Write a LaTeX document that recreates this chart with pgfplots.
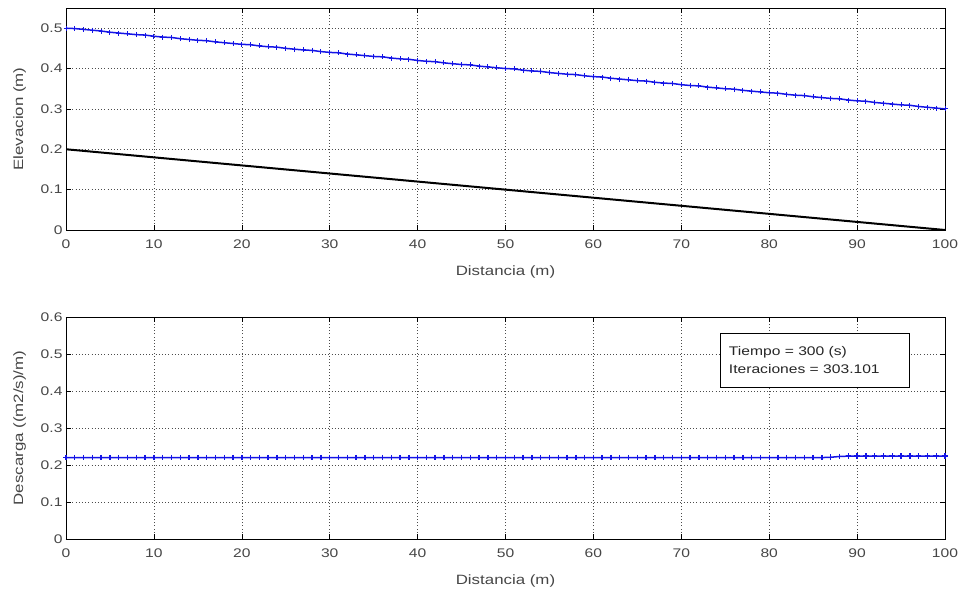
\documentclass[border=0pt]{standalone}
\usepackage{fontspec}
\setmainfont{Liberation Sans}[FakeStretch=1.25]
\usepackage{pgfplots}
\usepackage{pgfplotstable}
\pgfplotsset{compat=1.18}
\definecolor{lineBlue}{RGB}{20,20,230}
\definecolor{txtGray}{RGB}{70,70,70}

% x  nivel(m)  fondo(m)  descarga
\pgfplotstableread{
x   h      z      q
0   0.500  0.200  0.220
1   0.499  0.198  0.220
2   0.497  0.196  0.220
3   0.495  0.194  0.220
4   0.493  0.192  0.220
5   0.490  0.190  0.220
6   0.488  0.188  0.220
7   0.486  0.186  0.220
8   0.484  0.184  0.220
9   0.483  0.182  0.220
10  0.480  0.180  0.220
11  0.478  0.178  0.220
12  0.477  0.176  0.220
13  0.474  0.174  0.220
14  0.472  0.172  0.220
15  0.470  0.170  0.220
16  0.469  0.168  0.220
17  0.466  0.166  0.220
18  0.464  0.164  0.220
19  0.462  0.162  0.220
20  0.460  0.160  0.220
21  0.459  0.158  0.220
22  0.456  0.156  0.220
23  0.454  0.154  0.220
24  0.453  0.152  0.220
25  0.450  0.150  0.220
26  0.448  0.148  0.220
27  0.446  0.146  0.220
28  0.445  0.144  0.220
29  0.442  0.142  0.220
30  0.440  0.140  0.220
31  0.439  0.138  0.220
32  0.436  0.136  0.220
33  0.434  0.134  0.220
34  0.432  0.132  0.220
35  0.430  0.130  0.220
36  0.429  0.128  0.220
37  0.426  0.126  0.220
38  0.424  0.124  0.220
39  0.423  0.122  0.220
40  0.420  0.120  0.220
41  0.418  0.118  0.220
42  0.417  0.116  0.220
43  0.414  0.114  0.220
44  0.412  0.112  0.220
45  0.410  0.110  0.220
46  0.409  0.108  0.220
47  0.406  0.106  0.220
48  0.404  0.104  0.220
49  0.402  0.102  0.220
50  0.400  0.100  0.220
51  0.399  0.098  0.220
52  0.396  0.096  0.220
53  0.394  0.094  0.220
54  0.393  0.092  0.220
55  0.390  0.090  0.220
56  0.388  0.088  0.220
57  0.386  0.086  0.220
58  0.385  0.084  0.220
59  0.382  0.082  0.220
60  0.380  0.080  0.220
61  0.379  0.078  0.220
62  0.376  0.076  0.220
63  0.374  0.074  0.220
64  0.372  0.072  0.220
65  0.370  0.070  0.220
66  0.369  0.068  0.220
67  0.366  0.066  0.220
68  0.364  0.064  0.220
69  0.363  0.062  0.220
70  0.360  0.060  0.220
71  0.358  0.058  0.220
72  0.357  0.056  0.220
73  0.354  0.054  0.220
74  0.352  0.052  0.220
75  0.350  0.050  0.220
76  0.349  0.048  0.220
77  0.346  0.046  0.220
78  0.344  0.044  0.220
79  0.342  0.042  0.220
80  0.340  0.040  0.220
81  0.339  0.038  0.220
82  0.336  0.036  0.220
83  0.334  0.034  0.220
84  0.333  0.032  0.220
85  0.330  0.030  0.220
86  0.328  0.028  0.220
87  0.326  0.026  0.221
88  0.325  0.024  0.223
89  0.322  0.022  0.224
90  0.320  0.020  0.224
91  0.319  0.018  0.224
92  0.316  0.016  0.224
93  0.314  0.014  0.224
94  0.312  0.012  0.224
95  0.310  0.010  0.224
96  0.309  0.008  0.224
97  0.306  0.006  0.224
98  0.304  0.004  0.224
99  0.302  0.002  0.224
100 0.300  0.000  0.224
}\perfil

\pgfplotsset{
  matlab/.style={
    scale only axis, width=879pt, height=222pt,
    xmin=0, xmax=100, xtick={0,10,...,100},
    grid=major,
    major grid style={black!70, line width=0.5pt, dash pattern=on 0.8pt off 2.4pt},
    tick align=inside, major tick length=5pt,
    tick style={black, line width=0.6pt},
    axis line style={black, line width=0.8pt},
    xtick pos=both, ytick pos=both,
    ticklabel style={font=\fontsize{12.5}{14}\selectfont, text=txtGray},
    xticklabel style={yshift=-6pt},
    label style={font=\fontsize{13.5}{16}\selectfont, text=txtGray},
    xlabel style={yshift=-10pt},
    ylabel style={yshift=8pt},
    /pgf/number format/assume math mode=true,
    /pgf/number format/fixed,
    xlabel={Distancia (m)},
  }
}

\begin{document}
\begin{tikzpicture}
\useasboundingbox (0,0) rectangle (958pt,590pt);

\begin{axis}[matlab, at={(66pt,360pt)}, anchor=south west,
  ymin=0, ymax=0.55, ytick={0,0.1,...,0.5},
  ylabel={Elevacion (m)}]
  \addplot[color=lineBlue, line width=1.5pt, mark=+, mark size=2.5pt,
    mark options={line width=1pt}] table[x=x, y=h] {\perfil};
  \addplot[color=black, line width=2pt] table[x=x, y=z] {\perfil};
\end{axis}

\begin{axis}[matlab, at={(66pt,51pt)}, anchor=south west,
  ymin=0, ymax=0.6, ytick={0,0.1,...,0.6},
  ylabel={Descarga ((m2/s)/m)}]
  \addplot[color=lineBlue, line width=1.5pt, mark=+, mark size=2.8pt,
    mark options={line width=1.4pt}] table[x=x, y=q] {\perfil};
  \draw[black, line width=0.8pt, fill=white] (axis cs:74.5,0.411) rectangle (axis cs:96,0.557);
  \node[anchor=west, align=left, text=black!85, font=\fontsize{12.5}{18}\selectfont,
    inner sep=0pt] at (axis cs:75.4,0.484)
    {Tiempo = 300 (s)\\Iteraciones = 303.101};
\end{axis}
\end{tikzpicture}
\end{document}
